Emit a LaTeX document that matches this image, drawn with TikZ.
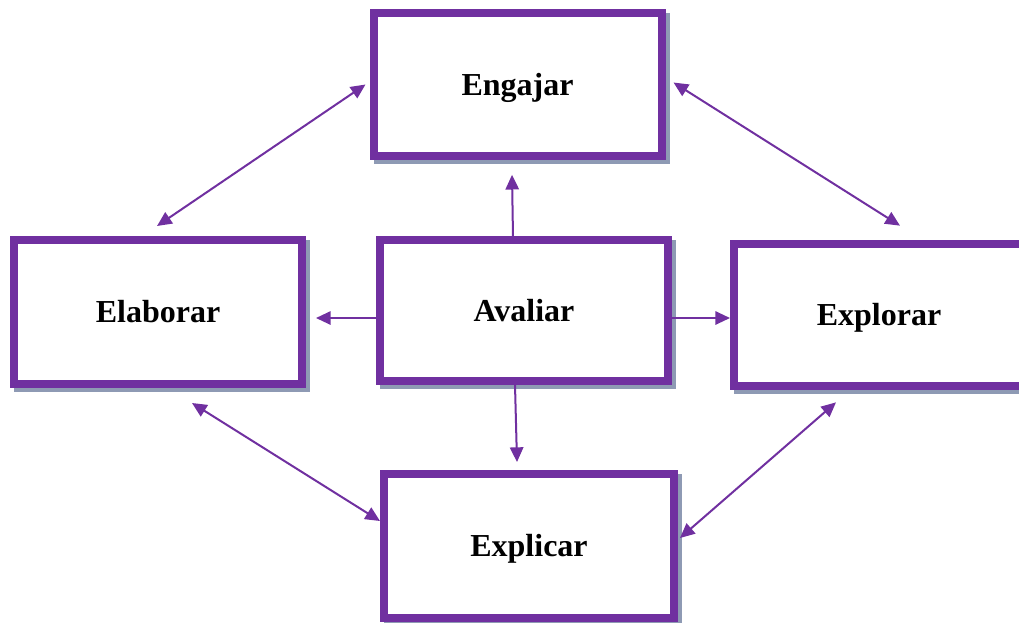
\documentclass[tikz,border=0pt]{standalone}
\usepackage{fontspec}
\setmainfont{Liberation Serif}
\usetikzlibrary{arrows.meta,shadows}

\definecolor{roxo}{HTML}{7030A0}
\definecolor{sombra}{HTML}{8E9AB4}

\tikzset{
    fase/.style={draw=roxo, line width=6pt, fill=white, rectangle,
        minimum width=216pt, minimum height=107pt,
        font=\fontsize{24}{28}\selectfont\bfseries,
        text height=16pt, text depth=0pt,
        drop shadow={shadow xshift=3pt, shadow yshift=-3pt, fill=sombra,
            draw=sombra, line width=6pt, opacity=1}},
    seta/.style={draw=roxo, line width=1.5pt, -{Triangle[length=11pt,width=10pt]}},
    dupla/.style={seta, {Triangle[length=11pt,width=10pt]}-{Triangle[length=11pt,width=10pt]}}
}

\begin{document}
\begin{tikzpicture}[x=0.75pt, y=-0.75pt]
    \useasboundingbox (0,0) rectangle (1019,622);

    \node[fase] (engajar) at (517.5,84.5) {Engajar};
    \node[fase, minimum height=108pt] (elaborar) at (158,312) {Elaborar};
    \node[fase, minimum height=105.75pt] (avaliar) at (524,310.5) {Avaliar};
    \node[fase, minimum width=217.5pt] (explorar) at (879,315) {Explorar};
    \node[fase, minimum width=217.5pt, minimum height=108pt] (explicar) at (529,546) {Explicar};

    % ciclo externo
    \draw[dupla] ([shift={(-1,-10)}]elaborar.north) -- ([shift={(-4,0)}]engajar.west);
    \draw[dupla] ([shift={(8,-2)}]engajar.east) -- ([shift={(21,-14)}]explorar.north);
    \draw[dupla] ([shift={(34,15)}]elaborar.south) -- ([shift={(0,-25)}]explicar.west);
    \draw[dupla] ([shift={(-43,12)}]explorar.south) -- ([shift={(2,-8)}]explicar.east);

    % avaliar no centro
    \draw[seta] ([shift={(-11,1)}]avaliar.north) -- ([shift={(-5.5,15)}]engajar.south);
    \draw[seta] ([shift={(0,7.5)}]avaliar.west) -- ([shift={(10,6)}]elaborar.east);
    \draw[seta] ([shift={(0,7.5)}]avaliar.east) -- ([shift={(0,3)}]explorar.west);
    \draw[seta] ([shift={(-9,0)}]avaliar.south) -- ([shift={(-12,-8)}]explicar.north);
\end{tikzpicture}
\end{document}
